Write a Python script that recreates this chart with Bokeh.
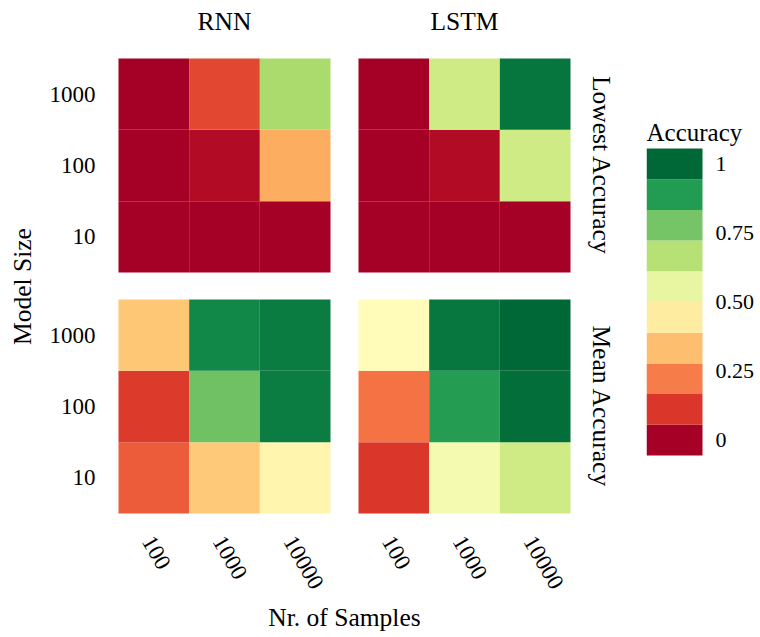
import math
from bokeh.plotting import figure
from bokeh.layouts import row
from bokeh.models import (ColumnDataSource, LinearColorMapper, FixedTicker, LinearAxis,
                          Range1d, CustomJSTickFormatter)
from bokeh.core.properties import value
from bokeh.embed import file_html
from bokeh.resources import INLINE

# ---------------- data ----------------
models = ["RNN", "LSTM"]
metrics = ["Lowest Accuracy", "Mean Accuracy"]
samples = ["100", "1000", "10000"]          # x categories
sizes = ["10", "100", "1000"]               # y categories (bottom -> top)

# rows follow sizes (10, 100, 1000), columns follow samples (100, 1000, 10000)
rnn_lowest = [[0.0, 0.0, 0.0],
              [0.0, 0.024, 0.30],
              [0.0, 0.14, 0.69]]
lstm_lowest = [[0.0, 0.0, 0.0],
               [0.0, 0.024, 0.62],
               [0.0, 0.62, 0.97]]
rnn_mean = [[0.174, 0.358, 0.465],
            [0.118, 0.784, 0.956],
            [0.348, 0.93, 0.96]]
lstm_mean = [[0.11, 0.53, 0.62],
             [0.208, 0.883, 0.985],
             [0.487, 0.967, 1.0]]

legend_title = "Accuracy"
legend_ticks = [0, 0.25, 0.5, 0.75, 1]
legend_labels = ["0", "0.25", "0.50", "0.75", "1"]
legend_bins = [k / 9 for k in range(10)]    # centres of the 10 colour steps

# ---------------- style ----------------
FONT = "Liberation Serif"
TICK_SIZE = "23px"
TITLE_SIZE = "25.5px"
base_colors = ["#a50026", "#d73027", "#f46d43", "#fdae61", "#fee08b", "#ffffbf",
               "#d9ef8b", "#a6d96a", "#66bd63", "#1a9850", "#006837"]


def interp(colors, n):
    rgb = [tuple(int(c[i:i + 2], 16) for i in (1, 3, 5)) for c in colors]
    out = []
    for k in range(n):
        t = k / (n - 1) * (len(rgb) - 1)
        i = min(int(t), len(rgb) - 2)
        f = t - i
        c = [round(rgb[i][j] + (rgb[i + 1][j] - rgb[i][j]) * f) for j in range(3)]
        out.append("#%02x%02x%02x" % tuple(c))
    return out


cont_palette = interp(base_colors, 256)
step_palette = [cont_palette[round(b * 255)] for b in legend_bins]

# ---------------- layout (screen px) ----------------
H = 637
PW = 630                               # main figure width
LW = 760 - PW                          # legend figure width
FR_L, FR_R, FR_T, FR_B = 108, 580, 49, 523   # main frame
TILE_L, TILE_B = 118, 513
UX = 212 / 3
UY = 214 / 3
col_off = [0.0, (358 - 118) / UX]
row_off = {"Mean Accuracy": 0.0, "Lowest Accuracy": (513 - 272) / UY}
XLABEL_SHIFT = 6 / UX                  # nudge rotated x labels left (no tick marks drawn)

x0 = -(TILE_L - FR_L) / UX
y0 = -(FR_B - TILE_B) / UY

p = figure(width=PW, height=H, output_backend="svg", toolbar_location=None,
           x_range=Range1d(x0, x0 + (FR_R - FR_L) / UX),
           y_range=Range1d(y0, y0 + (FR_B - FR_T) / UY),
           x_axis_location=None, y_axis_location=None,
           min_border_left=FR_L, min_border_right=PW - FR_R,
           min_border_top=FR_T, min_border_bottom=H - FR_B)
p.outline_line_color = None
p.grid.visible = False
p.background_fill_color = "white"
p.border_fill_color = "white"

# tiles
tables = {("RNN", "Lowest Accuracy"): rnn_lowest, ("LSTM", "Lowest Accuracy"): lstm_lowest,
          ("RNN", "Mean Accuracy"): rnn_mean, ("LSTM", "Mean Accuracy"): lstm_mean}
xs, ys, accs = [], [], []
for (model, metric), tab in tables.items():
    ci = models.index(model)
    for r, rw in enumerate(tab):
        for c, v in enumerate(rw):
            xs.append(col_off[ci] + c + 0.5)
            ys.append(row_off[metric] + r + 0.5)
            accs.append(v)
src = ColumnDataSource(dict(x=xs, y=ys, acc=accs))
mapper = LinearColorMapper(palette=cont_palette, low=0, high=1)
p.rect(x="x", y="y", width=1, height=1, source=src,
       fill_color={"field": "acc", "transform": mapper}, line_color=None)

# axes
xticks = [off + i + 0.5 - XLABEL_SHIFT for off in col_off for i in range(len(samples))]
xlabels = samples * len(models)
ypairs = sorted((row_off[m] + i + 0.5, s) for m in metrics for i, s in enumerate(sizes))
top_ticks = [off + len(samples) / 2 for off in col_off]
rpairs = sorted((row_off[m] + len(sizes) / 2, m) for m in metrics)

bottom_ax = LinearAxis()
left_ax = LinearAxis()
top_ax = LinearAxis()
right_ax = LinearAxis()
p.add_layout(bottom_ax, "below")
p.add_layout(left_ax, "left")
p.add_layout(top_ax, "above")
p.add_layout(right_ax, "right")


def style_axis(ax, ticks, labels, size):
    ax.ticker = FixedTicker(ticks=ticks)
    ax.formatter = CustomJSTickFormatter(args=dict(labels=labels), code="return labels[index];")
    ax.axis_line_color = None
    ax.major_tick_line_color = None
    ax.minor_tick_line_color = None
    ax.major_tick_out = 0
    ax.major_tick_in = 0
    ax.major_label_text_font = FONT
    ax.major_label_text_font_size = size
    ax.major_label_text_color = "black"


style_axis(bottom_ax, xticks, xlabels, TICK_SIZE)
style_axis(left_ax, [t for t, _ in ypairs], [s for _, s in ypairs], TICK_SIZE)
style_axis(top_ax, top_ticks, models, TITLE_SIZE)
style_axis(right_ax, [t for t, _ in rpairs], [m for _, m in rpairs], TITLE_SIZE)

bottom_ax.major_label_orientation = -math.pi / 3
bottom_ax.major_label_standoff = 14
left_ax.major_label_standoff = 13
top_ax.major_label_standoff = 14
right_ax.major_label_orientation = "parallel"
right_ax.major_label_standoff = 6

for ax, text, standoff in ((bottom_ax, "Nr. of Samples", 5), (left_ax, "Model Size", 10)):
    ax.axis_label = text
    ax.axis_label_text_font = FONT
    ax.axis_label_text_font_size = TITLE_SIZE
    ax.axis_label_text_font_style = "normal"
    ax.axis_label_text_color = "black"
    ax.axis_label_standoff = standoff

# ---------------- legend (stepped colour bar) ----------------
# same frame top/bottom as main plot (row layout aligns frames)
LB_L, LB_R, LB_T, LB_B = 646, 702, 148, 455      # bar box in screen px
LABEL_X = 715                                     # left edge of legend labels
step = legend_bins[1] - legend_bins[0]
lo, hi = legend_bins[0] - step / 2, legend_bins[-1] + step / 2
UL = (LB_B - LB_T) / (hi - lo)                    # px per accuracy unit
BW = LB_R - LB_L
q = figure(width=LW, height=H, output_backend="svg", toolbar_location=None,
           x_range=Range1d(0, (760 - LB_L) / BW),
           y_range=Range1d(lo - (FR_B - LB_B) / UL, hi + (LB_T - FR_T) / UL),
           x_axis_location=None, y_axis_location=None,
           min_border_left=LB_L - PW, min_border_right=0,
           min_border_top=FR_T, min_border_bottom=H - FR_B)
q.outline_line_color = None
q.grid.visible = False
q.border_fill_color = "white"
q.background_fill_color = "white"
lsrc = ColumnDataSource(dict(bottom=[b - step / 2 for b in legend_bins],
                             top=[b + step / 2 for b in legend_bins],
                             color=step_palette))
q.quad(left=0, right=1, bottom="bottom", top="top", fill_color="color", line_color=None,
       source=lsrc)
q.text(x=[0], y=[hi + (LB_T - 145) / UL], text=[legend_title], text_font=value(FONT),
       text_font_size="25px", text_align="left", text_baseline="bottom", text_color="black")
q.text(x=[(LABEL_X - LB_L) / BW] * len(legend_ticks), y=legend_ticks, text=legend_labels,
       text_font=value(FONT), text_font_size="22px", text_align="left",
       text_baseline="middle", text_color="black")

layout = row(p, q)
open("out.html", "w").write(file_html(layout, INLINE))
